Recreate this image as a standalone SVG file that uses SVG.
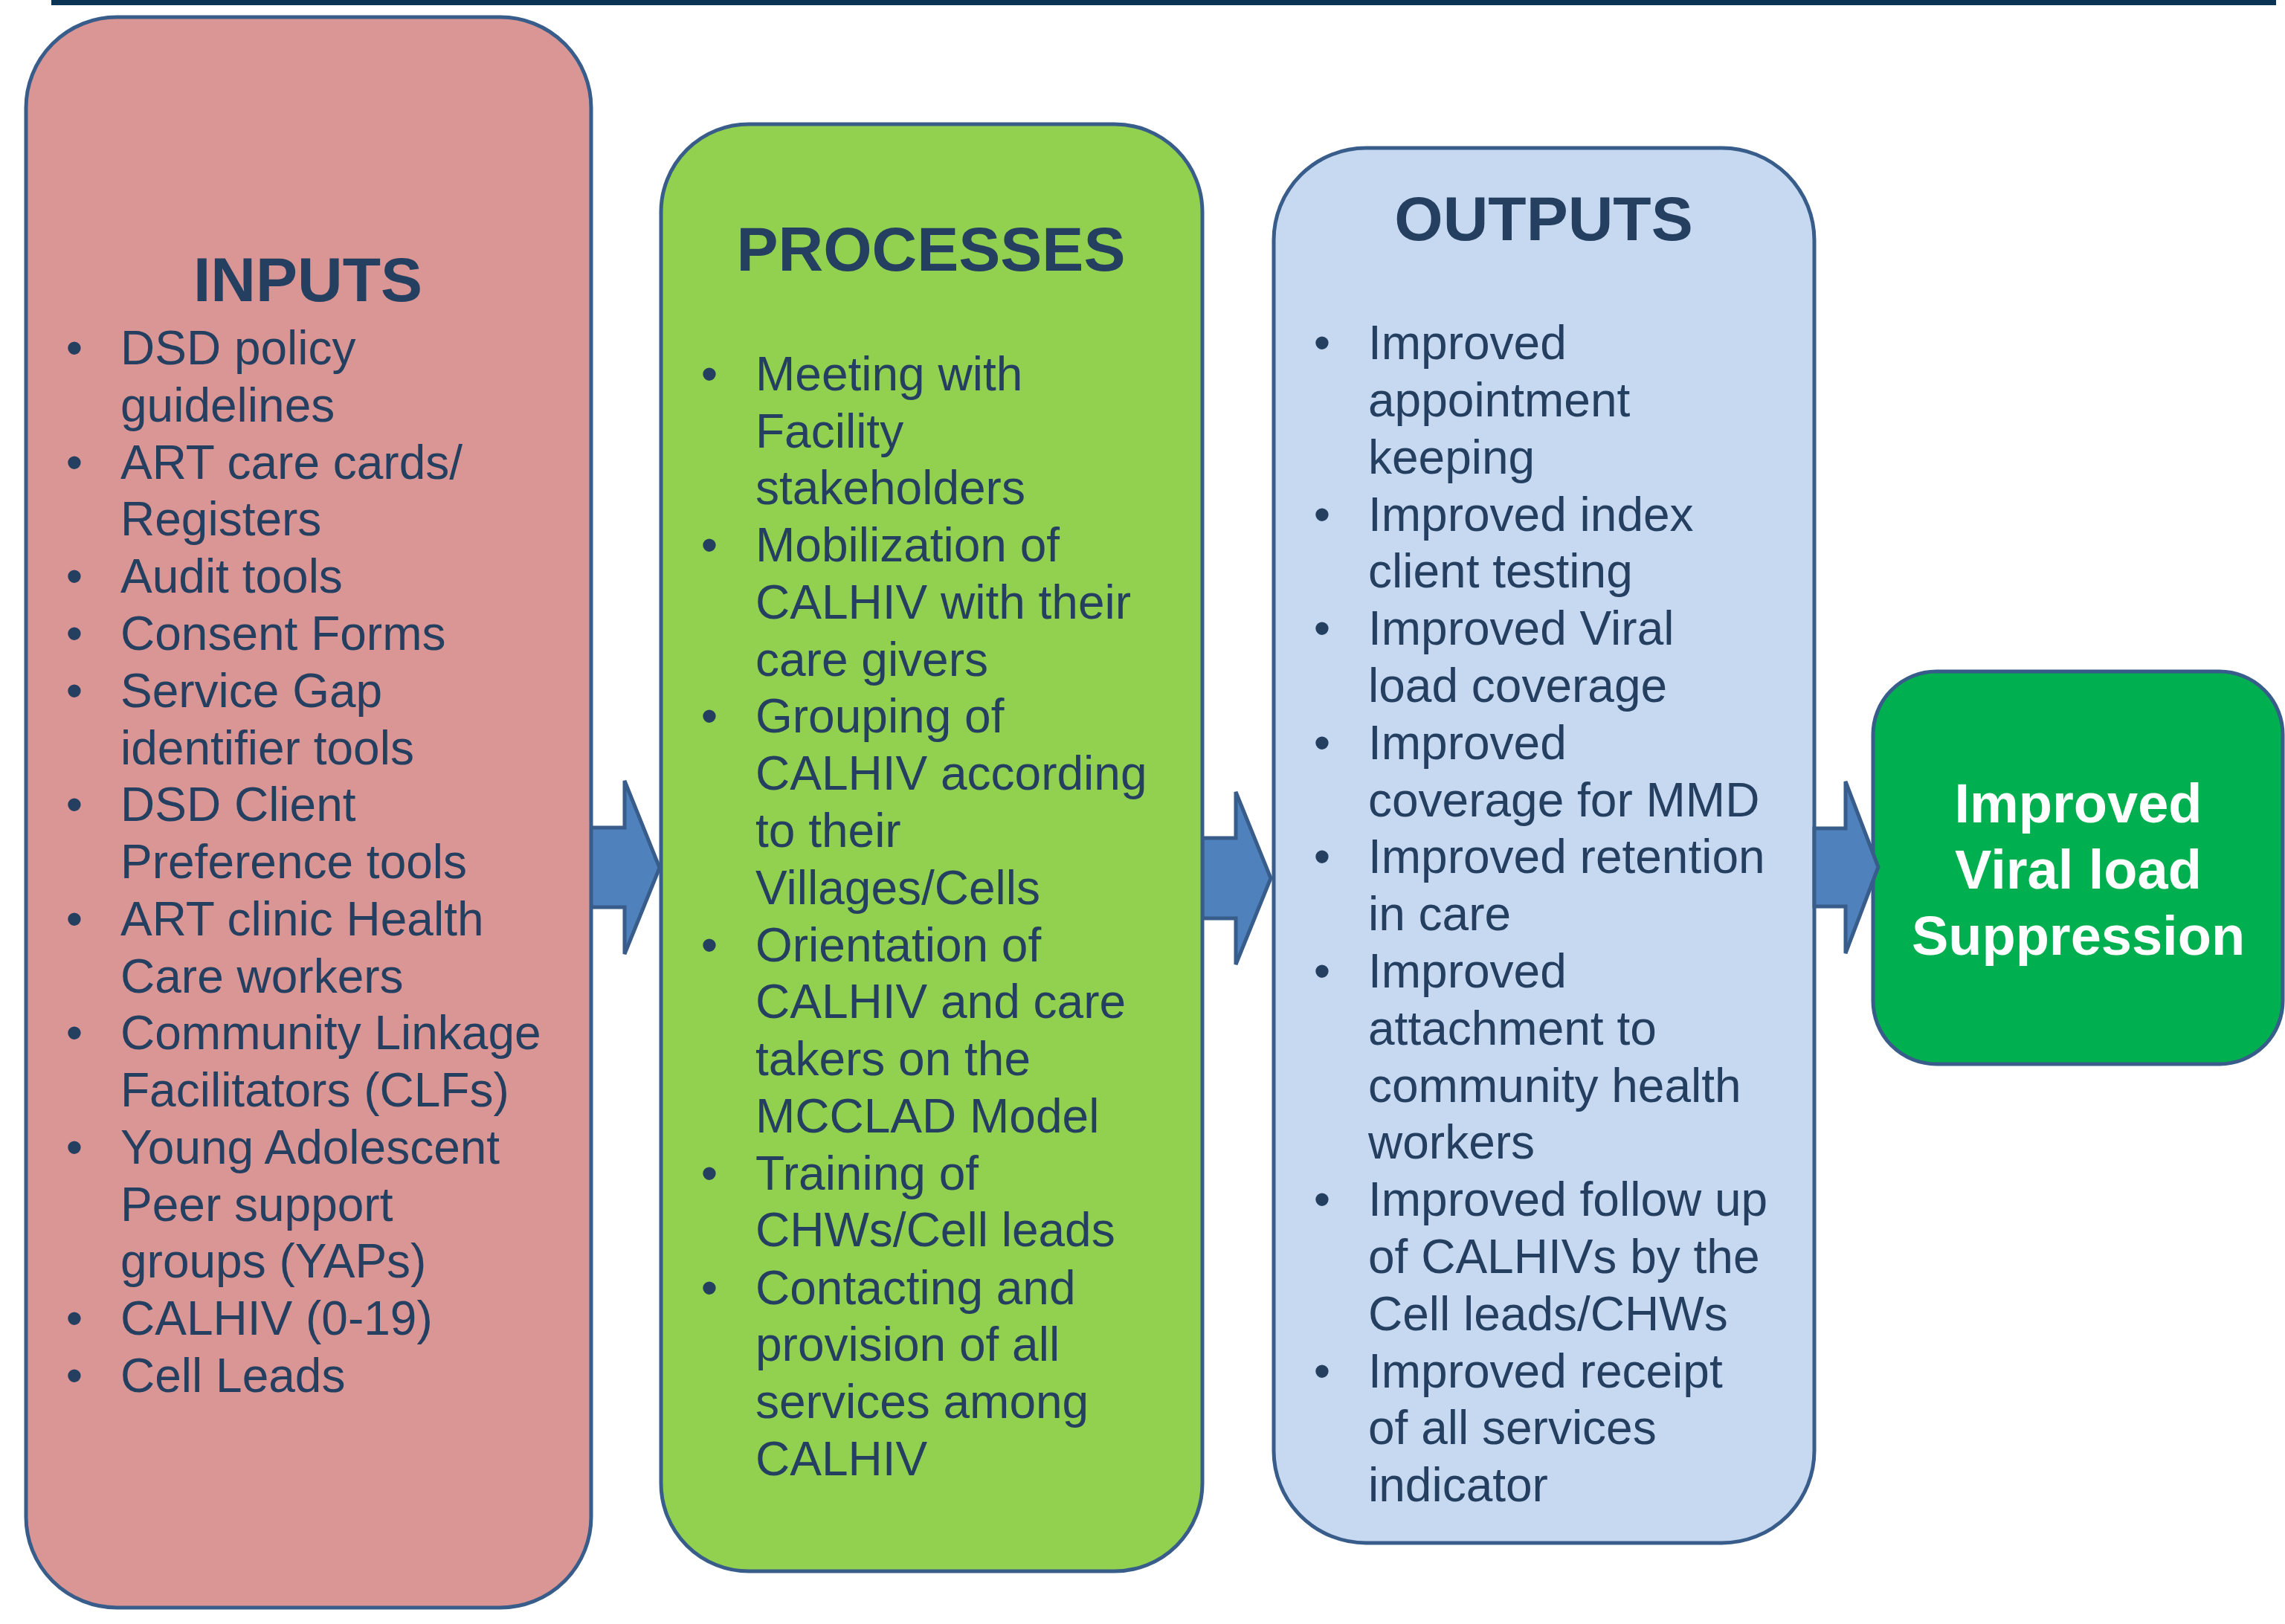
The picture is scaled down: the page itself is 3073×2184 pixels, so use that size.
<svg xmlns="http://www.w3.org/2000/svg" width="3073" height="2184" viewBox="0 0 3073 2184">
<style>
.box{stroke:#385D8A;stroke-width:5}
.arrow{fill:#4F81BD;stroke:#385D8A;stroke-width:5;stroke-linejoin:miter}
.title{font-family:"Liberation Sans",Arial,sans-serif;font-weight:bold;font-size:84px;fill:#243F60;text-anchor:middle}
.item{font-family:"Liberation Sans",Arial,sans-serif;font-size:64px;fill:#243F60}
.bul{font-family:"Liberation Sans",Arial,sans-serif;font-size:64px;fill:#243F60;text-anchor:middle}
.final{font-family:"Liberation Sans",Arial,sans-serif;font-weight:bold;font-size:74px;fill:#FFFFFF;text-anchor:middle}
</style>
<rect x="0" y="0" width="3073" height="2184" fill="#FFFFFF"/>
<rect id="topline" x="69" y="0" width="2992" height="7" fill="#0B3454"/>

<g id="connectors">
<path class="arrow" d="M793,1113 H840 V1050 L887,1167 L840,1283 V1220 H793 Z"/>
<path class="arrow" d="M1617,1127 H1662 V1065 L1709,1181 L1662,1297 V1235 H1617 Z"/>
</g>

<g id="inputs">
<rect class="box" x="35" y="23" width="760" height="2139" rx="122" ry="122" fill="#D99694"/>
<text class="title" x="414" y="405">INPUTS</text>
<g class="bul">
<text x="100" y="490">•</text>
<text x="100" y="644">•</text>
<text x="100" y="797">•</text>
<text x="100" y="874">•</text>
<text x="100" y="951">•</text>
<text x="100" y="1104">•</text>
<text x="100" y="1258">•</text>
<text x="100" y="1411">•</text>
<text x="100" y="1565">•</text>
<text x="100" y="1795">•</text>
<text x="100" y="1872">•</text>
</g>
<g class="item">
<text x="162" y="490">DSD policy</text>
<text x="162" y="567">guidelines</text>
<text x="162" y="644">ART care cards/</text>
<text x="162" y="720">Registers</text>
<text x="162" y="797">Audit tools</text>
<text x="162" y="874">Consent Forms</text>
<text x="162" y="951">Service Gap</text>
<text x="162" y="1028">identifier tools</text>
<text x="162" y="1104">DSD Client</text>
<text x="162" y="1181">Preference tools</text>
<text x="162" y="1258">ART clinic Health</text>
<text x="162" y="1335">Care workers</text>
<text x="162" y="1411">Community Linkage</text>
<text x="162" y="1488">Facilitators (CLFs)</text>
<text x="162" y="1565">Young Adolescent</text>
<text x="162" y="1642">Peer support</text>
<text x="162" y="1718">groups (YAPs)</text>
<text x="162" y="1795">CALHIV (0-19)</text>
<text x="162" y="1872">Cell Leads</text>
</g>
</g>

<g id="processes">
<rect class="box" x="889" y="167" width="728" height="1946" rx="118" ry="118" fill="#92D050"/>
<text class="title" x="1252" y="364">PROCESSES</text>
<g class="bul">
<text x="954" y="525">•</text>
<text x="954" y="755">•</text>
<text x="954" y="985">•</text>
<text x="954" y="1293">•</text>
<text x="954" y="1600">•</text>
<text x="954" y="1754">•</text>
</g>
<g class="item">
<text x="1016" y="525">Meeting with</text>
<text x="1016" y="602">Facility</text>
<text x="1016" y="678">stakeholders</text>
<text x="1016" y="755">Mobilization of</text>
<text x="1016" y="832">CALHIV with their</text>
<text x="1016" y="909">care givers</text>
<text x="1016" y="985">Grouping of</text>
<text x="1016" y="1062">CALHIV according</text>
<text x="1016" y="1139">to their</text>
<text x="1016" y="1216">Villages/Cells</text>
<text x="1016" y="1293">Orientation of</text>
<text x="1016" y="1369">CALHIV and care</text>
<text x="1016" y="1446">takers on the</text>
<text x="1016" y="1523">MCCLAD Model</text>
<text x="1016" y="1600">Training of</text>
<text x="1016" y="1676">CHWs/Cell leads</text>
<text x="1016" y="1754">Contacting and</text>
<text x="1016" y="1830">provision of all</text>
<text x="1016" y="1907">services among</text>
<text x="1016" y="1984">CALHIV</text>
</g>
</g>

<g id="outputs">
<rect class="box" x="1713" y="199" width="727" height="1876" rx="124" ry="124" fill="#C6D9F1"/>
<text class="title" x="2076" y="323">OUTPUTS</text>
<g class="bul">
<text x="1778" y="483">•</text>
<text x="1778" y="714">•</text>
<text x="1778" y="867">•</text>
<text x="1778" y="1021">•</text>
<text x="1778" y="1174">•</text>
<text x="1778" y="1328">•</text>
<text x="1778" y="1635">•</text>
<text x="1778" y="1866">•</text>
</g>
<g class="item">
<text x="1840" y="483">Improved</text>
<text x="1840" y="560">appointment</text>
<text x="1840" y="637">keeping</text>
<text x="1840" y="714">Improved index</text>
<text x="1840" y="790">client testing</text>
<text x="1840" y="867">Improved Viral</text>
<text x="1840" y="944">load coverage</text>
<text x="1840" y="1021">Improved</text>
<text x="1840" y="1098">coverage for MMD</text>
<text x="1840" y="1174">Improved retention</text>
<text x="1840" y="1251">in care</text>
<text x="1840" y="1328">Improved</text>
<text x="1840" y="1405">attachment to</text>
<text x="1840" y="1482">community health</text>
<text x="1840" y="1558">workers</text>
<text x="1840" y="1635">Improved follow up</text>
<text x="1840" y="1712">of CALHIVs by the</text>
<text x="1840" y="1789">Cell leads/CHWs</text>
<text x="1840" y="1866">Improved receipt</text>
<text x="1840" y="1942">of all services</text>
<text x="1840" y="2019">indicator</text>
</g>
</g>

<g id="result">
<rect class="box" x="2519" y="903" width="551" height="528" rx="85" ry="85" fill="#00B050"/>
<text class="final" x="2795" y="1106">Improved</text>
<text class="final" x="2795" y="1195">Viral load</text>
<text class="final" x="2795" y="1284">Suppression</text>
</g>

<g id="connectors-front">
<path class="arrow" d="M2440,1114 H2482 V1051 L2526,1166 L2482,1282 V1219 H2440 Z"/>
</g>
</svg>
